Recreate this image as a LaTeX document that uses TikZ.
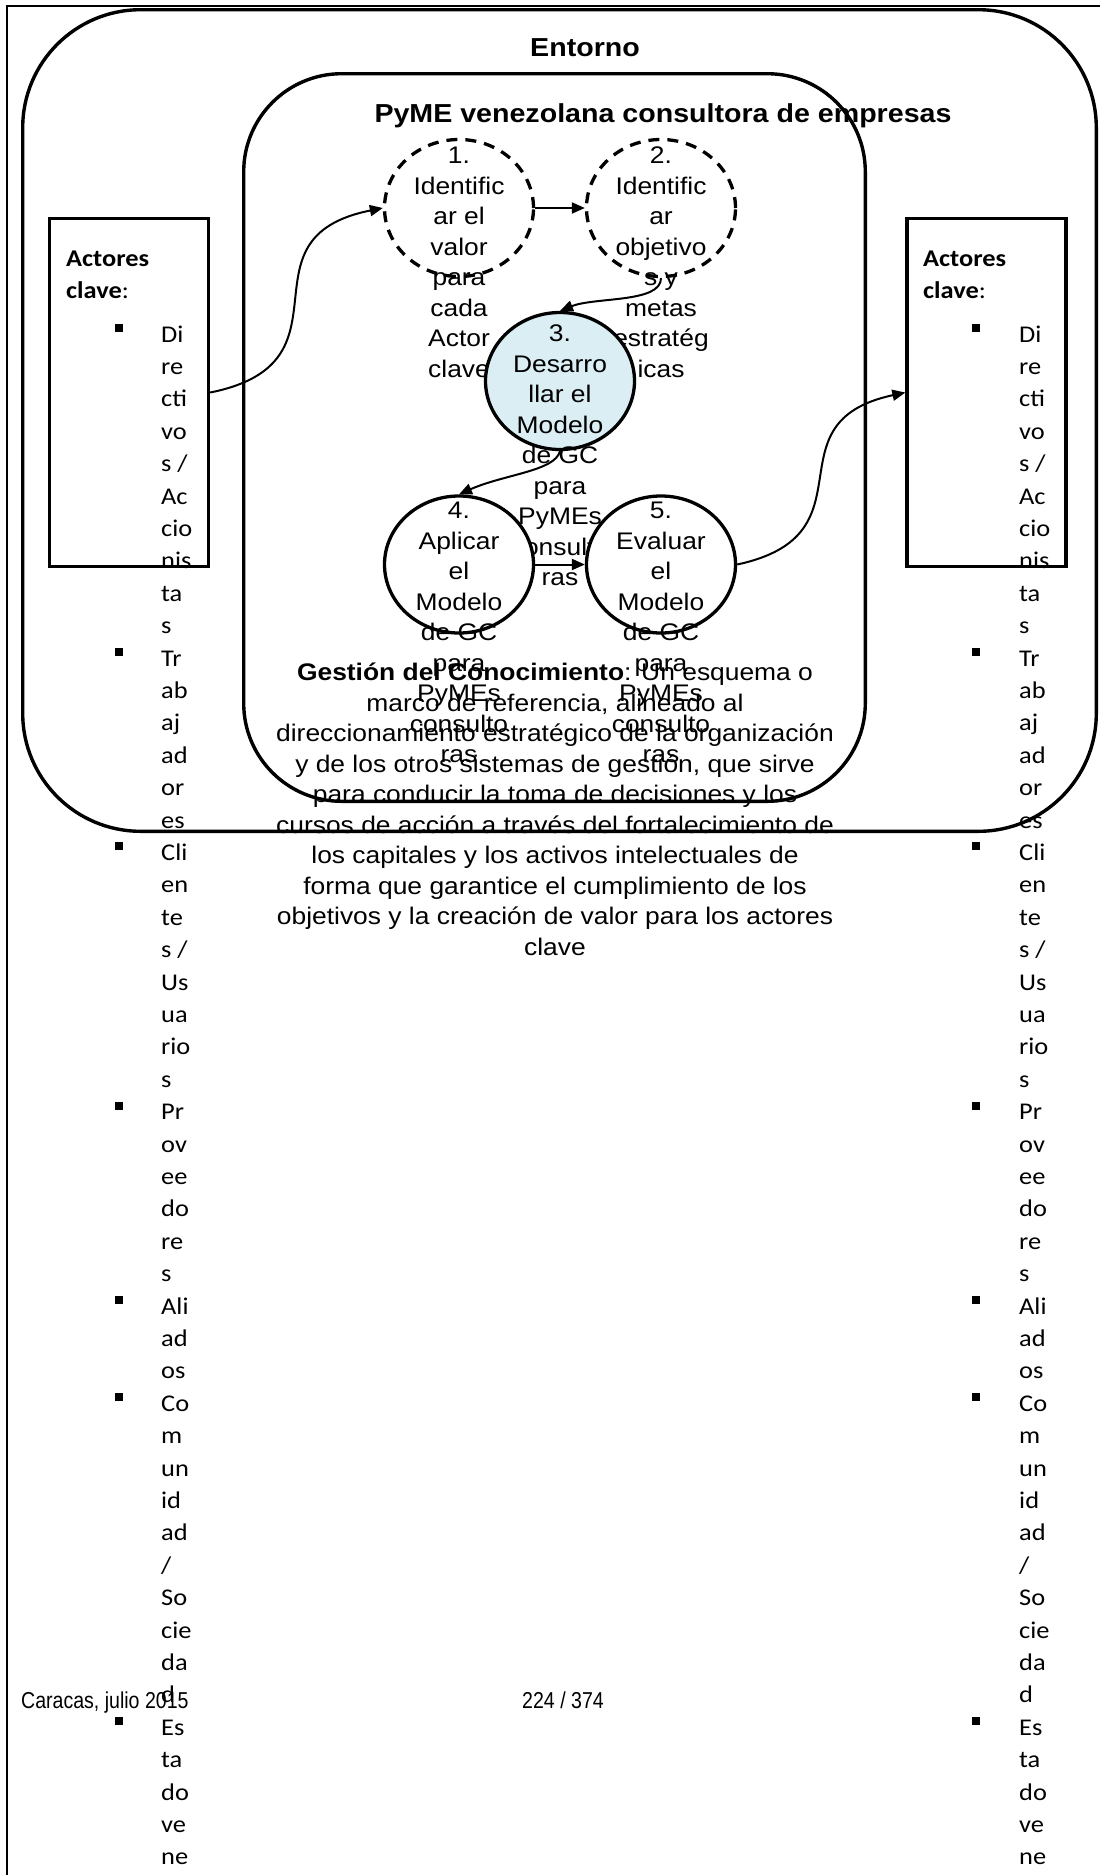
\documentclass[tikz,border=0pt]{standalone}
\usepackage{fontspec}
\setmainfont[FakeStretch=1.1]{Liberation Sans}
\newfontfamily\calfont[FakeStretch=1.1]{Carlito}
\newfontfamily\narrowfont[FakeStretch=0.85]{Liberation Sans}
\usetikzlibrary{arrows.meta,shapes.geometric}
\definecolor{stepblue}{RGB}{218,238,243}

\begin{document}
\begin{tikzpicture}[x=1pt,y=-1pt,
  frameline/.style={line width=1.3pt},
  envbox/.style={line width=3.4pt, rounded corners=118pt},
  orgbox/.style={line width=3.4pt, rounded corners=98pt},
  actbox/.style={draw, line width=3.3pt, minimum width=159pt, minimum height=348pt, inner sep=0pt},
  stage/.style={ellipse, draw, line width=3.3pt, minimum width=149pt, minimum height=137pt, inner sep=0pt},
  plan/.style={stage, dash pattern=on 11pt off 8pt},
  core/.style={stage, fill=stepblue},
  run/.style={stage, fill=white},
  stagetext/.style={align=center, inner sep=0pt, anchor=north, font=\fontsize{24}{30.5}\selectfont},
  title/.style={anchor=base, inner sep=0pt, font=\fontsize{26}{30}\selectfont\bfseries},
  actor/.style={anchor=base west, inner sep=0pt, font=\calfont\fontsize{24}{29}\selectfont},
  bullet/.style={rectangle, fill, minimum size=8pt, inner sep=0pt},
  footer/.style={anchor=base, inner sep=0pt, font=\narrowfont\fontsize{23}{27}\selectfont},
  conn/.style={line width=2pt, -{Triangle[length=13pt,width=11pt]}}
]
\useasboundingbox (0,0) rectangle (1100,1875);

% page frame, environment and organisation
\draw[frameline] (7,1875) -- (7,6) -- (1100,6);
\draw[envbox] (22.7,9.7) rectangle (1096.3,831.3);
\draw[orgbox] (243.7,73.7) rectangle (865.3,801.3);

\node[title] (entorno) at (585,56.5) {Entorno};
\node[title] (pyme) at (663,122.5) {PyME venezolana consultora de empresas};

% key actor boxes
\node[actbox] (lbox) at (129,392.5) {};
\node[actbox] (rbox) at (986.5,392.5) {};
\node[actor] (lhead1) at (66,266) {\bfseries Actores};
\node[actor] (lhead2) at (66,298) {\textbf{clave}:};
\node[actor] (rhead1) at (923,266) {\bfseries Actores};
\node[actor] (rhead2) at (923,298) {\textbf{clave}:};
\foreach \w [count=\i from 0] in {Di,re,cti,vo,s /,Ac,cio,nis,ta,s,Tr,ab,aj,ad,or,es,Cli,en,te,s /,Us,ua,rio,s,Pr,ov,ee,do,re,s,Ali,ad,os,Co,m,un,id,ad,/,So,cie,da,d,Es,ta,do,ve,ne}{
  \node[actor] (l\i) at (161,{342+32.4*\i}) {\w};
  \node[actor] (r\i) at (1019,{342+32.4*\i}) {\w};
}
\foreach \i in {0,10,16,24,30,33,43}{
  \node[bullet] (lb\i) at (119,{342+32.4*\i-14}) {};
  \node[bullet] (rb\i) at (976,{342+32.4*\i-14}) {};
}

% process stages
\node[plan] (c1) at (459,208) {};
\node[plan] (c2) at (661,208) {};
\node[stagetext] (t1) at (459,142.2) {\strut 1.\\Identific\\ar el\\valor\\para\\cada\\Actor\\clave};
\node[stagetext] (t2) at (661,142.2) {\strut 2.\\Identific\\ar\\objetivo\\s y\\metas\\estratég\\icas};
\node[core] (c3) at (560,381) {};
\node[stagetext] (t3) at (560,320.2) {\strut 3.\\Desarro\\llar el\\Modelo\\de GC\\para\\PyMEs\\consulto\\ras};
\node[run] (c4) at (459,564.5) {};
\node[run] (c5) at (661,564.5) {};
\node[stagetext] (t4) at (459,497.2) {\strut 4.\\Aplicar\\el\\Modelo\\de GC\\para\\PyMEs\\consulto\\ras};
\node[stagetext] (t5) at (661,497.2) {\strut 5.\\Evaluar\\el\\Modelo\\de GC\\para\\PyMEs\\consulto\\ras};

% definition
\node[stagetext] (gc) at (555,659.2) {\strut\textbf{Gestión del Conocimiento}: Un esquema o\\marco de referencia, alineado al\\direccionamiento estratégico de la organización\\y de los otros sistemas de gestión, que sirve\\para conducir la toma de decisiones y los\\cursos de acción a través del fortalecimiento de\\los capitales y los activos intelectuales de\\forma que garantice el cumplimiento de los\\objetivos y la creación de valor para los actores\\clave};

% connectors
\draw[conn] (lbox.east) .. controls +(150,-30) and +(-150,30) .. (c1.west);
\draw[conn] (c1.east) -- (c2.west);
\draw[conn] (c2.south) .. controls +(0,25) and +(35,-14) .. (c3.north);
\draw[conn] (c3.south) .. controls +(-5,20) and +(45,-20) .. (c4.north);
\draw[conn] (c4.east) -- (c5.west);
\draw[conn] (c5.east) .. controls +(140,-30) and +(-140,30) .. (rbox.west);

% footer
\node[footer, anchor=base west] (place) at (21,1708) {Caracas, julio 2015};
\node[footer] (page) at (563,1708) {224 / 374};
\end{tikzpicture}
\end{document}
